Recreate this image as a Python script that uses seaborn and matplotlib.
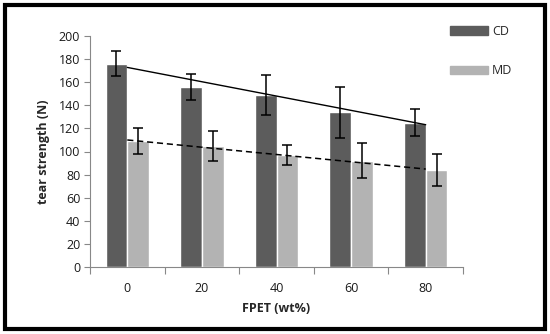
import numpy as np
import pandas as pd
import seaborn as sns
import matplotlib.pyplot as plt
from matplotlib.patches import Rectangle

fpet = ['0', '20', '40', '60', '80']
cd_mean = [176, 156, 149, 134, 125]
cd_err = [11, 11, 17, 22, 12]
md_mean = [109, 105, 97, 92, 84]
md_err = [11, 13, 9, 15, 14]

df = pd.DataFrame({
    'FPET': fpet * 2,
    'strength': cd_mean + md_mean,
    'dir': ['CD'] * 5 + ['MD'] * 5,
})

sns.set_style('white')
plt.rcParams['font.family'] = ['Open Sans', 'DejaVu Sans']

fig = plt.figure(figsize=(5.5, 3.34), dpi=100)
ax = fig.add_axes([90 / 550, 67 / 334, 373 / 550, 231 / 334])

sns.barplot(data=df, x='FPET', y='strength', hue='dir', order=fpet,
            palette=['#5c5c5c', '#b3b3b3'], width=0.58, errorbar=None,
            saturation=1, ax=ax, legend=False)

# error bars at bar centres
for cont, err in zip(ax.containers, [cd_err, md_err]):
    xs = [b.get_x() + b.get_width() / 2 for b in cont]
    ys = [b.get_height() for b in cont]
    ax.errorbar(xs, ys, yerr=err, fmt='none', ecolor='black',
                elinewidth=1.1, capsize=3.5, capthick=1.1, zorder=5)

# linear trendlines
xi = np.arange(len(fpet))
p_cd = np.polyfit(xi, cd_mean, 1)
p_md = np.polyfit(xi, md_mean, 1)
ax.plot(xi, np.polyval(p_cd, xi), color='black', lw=1.0, zorder=4)
ax.plot(xi, np.polyval(p_md, xi), color='black', lw=1.1, ls=(0, (4, 2.5)), zorder=4)

ax.set_ylim(0, 200)
ax.set_xlim(-0.5, 4.5)
ax.set_yticks(range(0, 201, 20))
ax.set_xticks(xi)
ax.set_xticks(np.arange(-0.5, 5, 1), minor=True)
ax.tick_params(axis='x', which='major', length=0, pad=11, labelsize=9, labelcolor='#1a1a1a')
ax.tick_params(axis='x', which='minor', length=5, width=0.8, color='#888888', direction='out', bottom=True)
ax.tick_params(axis='y', length=4, width=0.8, color='#888888', direction='out', left=True,
               labelsize=9, labelcolor='#1a1a1a', pad=3)

sns.despine(ax=ax)
for s in ['left', 'bottom']:
    ax.spines[s].set_color('#888888')
    ax.spines[s].set_linewidth(0.8)

ax.set_xlabel('FPET (wt%)', fontsize=9, fontweight='bold', labelpad=5)
ax.set_ylabel('tear strength (N)', fontsize=9, fontweight='bold', labelpad=6)

handles = [Rectangle((0, 0), 1, 1, color='#5c5c5c'), Rectangle((0, 0), 1, 1, color='#b3b3b3')]
fig.legend(handles, ['CD', 'MD'], loc='upper left', bbox_to_anchor=(450 / 550, 1 - 25 / 334),
           frameon=False, fontsize=9, handlelength=3.0, handleheight=0.7,
           handletextpad=0.35, labelspacing=2.1, borderpad=0, borderaxespad=0)

fig.add_artist(Rectangle((5 / 550, 5 / 334), 540 / 550, 324 / 334, transform=fig.transFigure,
                         fill=False, edgecolor='black', lw=3))

fig.savefig('out.png', dpi=100)
